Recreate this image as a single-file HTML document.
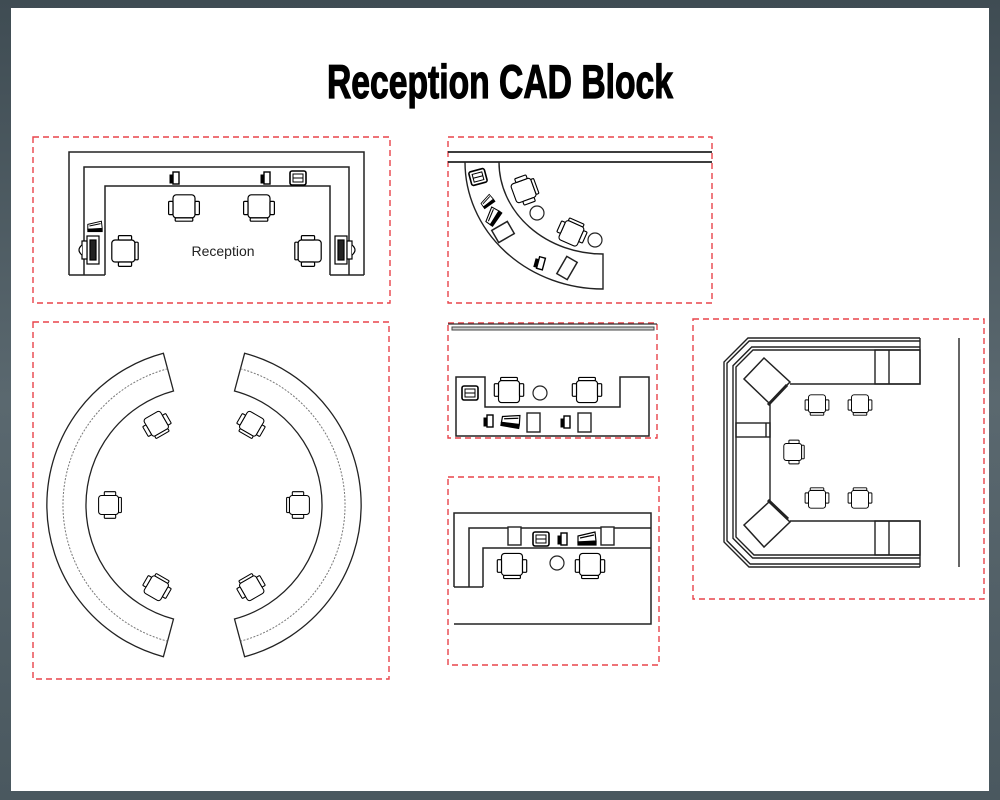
<!DOCTYPE html>
<html><head><meta charset="utf-8"><style>
html,body{margin:0;padding:0;width:1000px;height:800px;overflow:hidden;background:#55636a;}
svg{display:block}
</style></head><body>
<svg width="1000" height="800" viewBox="0 0 1000 800" xmlns="http://www.w3.org/2000/svg">
<defs>
<linearGradient id="bg" x1="0" y1="0" x2="0" y2="1">
<stop offset="0" stop-color="#3f4c53"/><stop offset="0.5" stop-color="#5a686f"/><stop offset="1" stop-color="#4a585f"/>
</linearGradient>
<g id="ch" fill="#fff" stroke="#000" stroke-width="1.1">
<rect x="-10" y="-12" width="20" height="21" rx="3"/>
<rect x="-14" y="-6" width="4" height="12" rx="1"/>
<rect x="10" y="-6" width="4" height="12" rx="1"/>
<rect x="-8" y="9" width="16" height="3" rx="1"/>
</g>
<g id="pr" stroke="#000">
<rect x="-8" y="-7" width="16" height="14" rx="2" fill="#fff" stroke-width="1.6"/>
<rect x="-5" y="-4" width="10" height="8" fill="none" stroke-width="1"/>
<line x1="-5" y1="0" x2="5" y2="0" stroke-width="1"/>
</g>
<g id="ph" stroke="#000">
<rect x="-2" y="-6" width="6" height="12" fill="#fff" stroke-width="1.4"/>
<rect x="-5" y="-3" width="3" height="8" fill="#000"/>
</g>
<g id="fx" stroke="#000" fill="#fff" stroke-width="1.2">
<polygon points="-9,-2 8,-6 9,3 -9,4"/>
<line x1="-7" y1="0" x2="7" y2="-3"/>
<rect x="-9" y="4" width="18" height="3" fill="#000"/>
</g>
<g id="mon" stroke="#000" fill="#fff" stroke-width="1.2">
<rect x="-5" y="-14" width="12" height="28"/>
<rect x="-2" y="-10" width="6" height="20" fill="#222"/>
<rect x="-10" y="-9" width="5" height="18"/>
<path d="M-10,-5 Q-16,0 -10,5" fill="#fff"/>
</g>
</defs>
<rect width="1000" height="800" fill="url(#bg)"/>
<rect x="11" y="8" width="978" height="783" fill="#fff"/>

<text x="500" y="98" font-family="Liberation Sans, sans-serif" font-weight="bold" font-size="47" text-anchor="middle" textLength="346" lengthAdjust="spacingAndGlyphs" fill="#000" stroke="#000" stroke-width="1.2">Reception CAD Block</text>

<g fill="none" stroke="#e8434a" stroke-width="1.4" stroke-dasharray="6 4">
<rect x="33" y="137" width="357" height="166"/>
<rect x="448" y="137" width="264" height="166"/>
<rect x="33" y="322" width="356" height="357"/>
<rect x="448" y="323" width="209" height="115"/>
<rect x="448" y="477" width="211" height="188"/>
<rect x="693" y="319" width="291" height="280"/>
</g>

<!-- Panel 1 -->
<g fill="none" stroke="#222" stroke-width="1.5">
<path d="M69,275 V152 H364 V275"/>
<path d="M84,275 V167 H349 V275"/>
<path d="M105,275 V186 H330 V275"/>
<path d="M69,275 H105 M330,275 H364"/>
</g>
<use href="#ch" transform="translate(184,208) scale(1.1)"/>
<use href="#ch" transform="translate(259,208) scale(1.1)"/>
<use href="#ch" transform="translate(125,251) rotate(-90) scale(1.1)"/>
<use href="#ch" transform="translate(308,251) rotate(90) scale(1.1)"/>
<text x="223" y="256" font-family="Liberation Sans, sans-serif" font-size="14" text-anchor="middle" fill="#222">Reception</text>
<use href="#ph" transform="translate(175,178)"/>
<use href="#ph" transform="translate(266,178)"/>
<use href="#pr" transform="translate(298,178)"/>
<use href="#fx" transform="translate(95,226) scale(0.8)"/>
<use href="#mon" transform="translate(92,250)"/>
<use href="#mon" transform="translate(342,250) scale(-1,1)"/>

<!-- Panel 2 -->
<g stroke="#222" stroke-width="1.8">
<line x1="448" y1="152" x2="712" y2="152"/>
<line x1="448" y1="162" x2="712" y2="162"/>
</g>
<path d="M465,162 A138,127 0 0 0 603,289 L603,254 A104,92 0 0 1 499,162" fill="none" stroke="#222" stroke-width="1.4"/>
<use href="#ch" transform="translate(525,190) rotate(-110)"/>
<use href="#ch" transform="translate(572,232) rotate(-156)"/>
<circle cx="537" cy="213" r="7" fill="#fff" stroke="#222" stroke-width="1.2"/>
<circle cx="595" cy="240" r="7" fill="#fff" stroke="#222" stroke-width="1.2"/>
<use href="#pr" transform="translate(478,177) rotate(-15)"/>
<use href="#fx" transform="translate(487,201) rotate(-35) scale(0.7)"/>
<use href="#fx" transform="translate(492,216) rotate(-55) scale(0.9)"/>
<rect x="-9" y="-7" width="18" height="14" transform="translate(503,232) rotate(-30)" fill="#fff" stroke="#222" stroke-width="1.5"/>
<use href="#ph" transform="translate(540,263) rotate(15)"/>
<rect x="-6" y="-10" width="12" height="20" transform="translate(567,268) rotate(30)" fill="#fff" stroke="#222" stroke-width="1.5"/>

<!-- Panel 3 -->
<g fill="none" stroke="#222" stroke-width="1.3">
<path d="M163.4,353.3 A157,157 0 0 0 163.4,656.7 L173.5,619 A118,118 0 0 1 173.5,391 Z"/>
<path d="M244.6,353.3 A157,157 0 0 1 244.6,656.7 L234.5,619 A118,118 0 0 0 234.5,391 Z"/>
</g>
<g fill="none" stroke="#777" stroke-width="1" stroke-dasharray="2 1.5">
<path d="M167.5,368.8 A141,141 0 0 0 167.5,641.2"/>
<path d="M240.5,368.8 A141,141 0 0 1 240.5,641.2"/>
</g>
<use href="#ch" transform="translate(110,505) rotate(-90) scale(0.95)"/>
<use href="#ch" transform="translate(298,505) rotate(90) scale(0.95)"/>
<use href="#ch" transform="translate(157,425) rotate(-30) scale(0.95)"/>
<use href="#ch" transform="translate(157,587) rotate(-150) scale(0.95)"/>
<use href="#ch" transform="translate(251,425) rotate(30) scale(0.95)"/>
<use href="#ch" transform="translate(251,587) rotate(150) scale(0.95)"/>

<!-- Panel 4 -->
<line x1="448" y1="324" x2="657" y2="324" stroke="#333" stroke-width="1.2"/>
<rect x="452" y="327" width="202" height="3" fill="#ccc" stroke="#444" stroke-width="1"/>
<path d="M456,377 H485 V407 H620 V377 H649 V436 H456 Z" fill="none" stroke="#222" stroke-width="1.5"/>
<use href="#ch" transform="translate(509,390) rotate(180) scale(1.05)"/>
<use href="#ch" transform="translate(587,390) rotate(180) scale(1.05)"/>
<circle cx="540" cy="393" r="7" fill="#fff" stroke="#222" stroke-width="1.2"/>
<use href="#pr" transform="translate(470,393)"/>
<use href="#ph" transform="translate(489,421)"/>
<use href="#fx" transform="translate(511,420) rotate(10)"/>
<rect x="527" y="413" width="13" height="19" fill="#fff" stroke="#222" stroke-width="1.4"/>
<use href="#ph" transform="translate(566,422)"/>
<rect x="578" y="413" width="13" height="19" fill="#fff" stroke="#222" stroke-width="1.4"/>

<!-- Panel 5 -->
<g fill="none" stroke="#222" stroke-width="1.5">
<path d="M454,587 V513 H651 V624 H454"/>
<path d="M469,587 V528 H651"/>
<path d="M483,587 V548 H651"/>
<path d="M454,587 H483"/>
</g>
<use href="#ch" transform="translate(512,566) scale(1.05)"/>
<use href="#ch" transform="translate(590,566) scale(1.05)"/>
<circle cx="557" cy="563" r="7" fill="#fff" stroke="#222" stroke-width="1.2"/>
<rect x="508" y="527" width="13" height="18" fill="#fff" stroke="#222" stroke-width="1.4"/>
<use href="#pr" transform="translate(541,539)"/>
<use href="#ph" transform="translate(563,539)"/>
<use href="#fx" transform="translate(587,538)"/>
<rect x="601" y="527" width="13" height="18" fill="#fff" stroke="#222" stroke-width="1.4"/>

<!-- Panel 6 -->
<line x1="959" y1="338" x2="959" y2="567" stroke="#333" stroke-width="1.5"/>
<g fill="none" stroke="#222" stroke-width="1.4">
<path d="M920,338 H748 L724,362 V542 L749,567 H920"/>
<path d="M920,341 H749.2 L727,363.2 V540.8 L750.2,564 H920"/>
<path d="M920,347 H751.7 L733,365.7 V538.3 L752.7,558 H920"/>
<path d="M920,350 H753 L736,367 V537 L754,555 H920"/>
<path d="M920,338 V384 H790"/>
<path d="M920,567 V521 H790"/>
<path d="M770,403 V502"/>
<rect x="875" y="350" width="45" height="34"/>
<line x1="889" y1="350" x2="889" y2="384"/>
<rect x="875" y="521" width="45" height="34"/>
<line x1="889" y1="521" x2="889" y2="555"/>
<rect x="736" y="423" width="34" height="14"/>
<line x1="766" y1="423" x2="766" y2="437"/>
</g>
<g fill="#fff" stroke="#222" stroke-width="1.5">
<polygon points="764,358 790,382 769,403 744,379"/>
<polygon points="769,502 790,522 764,547 744,525"/>
</g>
<line x1="787" y1="385" x2="768" y2="405" stroke="#222" stroke-width="3"/>
<line x1="768" y1="500" x2="788" y2="519" stroke="#222" stroke-width="3"/>
<use href="#ch" transform="translate(817,405) scale(0.85)"/>
<use href="#ch" transform="translate(860,405) scale(0.85)"/>
<use href="#ch" transform="translate(817,498) rotate(180) scale(0.85)"/>
<use href="#ch" transform="translate(860,498) rotate(180) scale(0.85)"/>
<use href="#ch" transform="translate(794,452) rotate(-90) scale(0.85)"/>
</svg>
</body></html>
